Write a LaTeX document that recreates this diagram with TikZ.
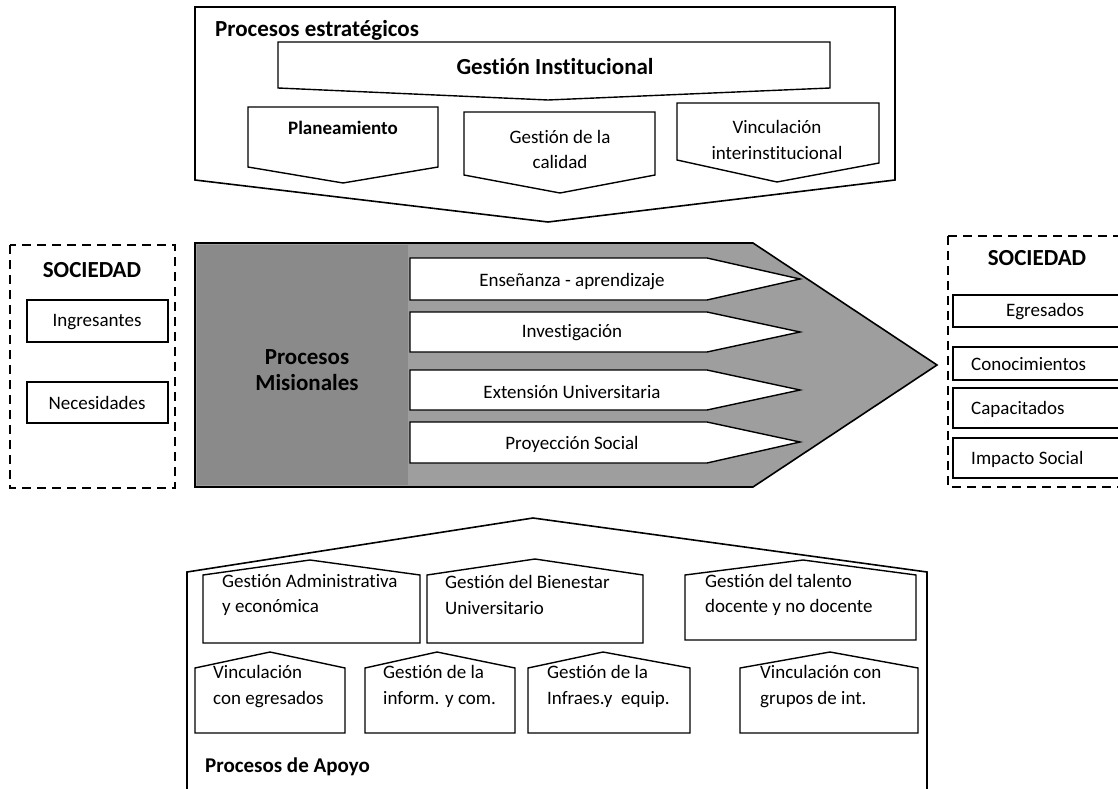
\documentclass[tikz,border=0pt]{standalone}
\usepackage{fontspec}
\setmainfont{Carlito}[Ligatures=NoCommon]
\begin{document}
\begin{tikzpicture}[x=1pt,y=-1pt,
  frame/.style={draw, line width=1.6pt, line join=miter},
  pbox/.style={draw, line width=1.4pt, fill=white, line join=miter},
  dbox/.style={draw, line width=2pt, dash pattern=on 9pt off 6pt},
  txt/.style={font=\fontsize{19}{25.5}\selectfont, inner sep=0pt},
  head/.style={font=\bfseries\fontsize{23}{26}\selectfont, inner sep=0pt},
  bhead/.style={font=\bfseries\fontsize{21}{24}\selectfont, inner sep=0pt}]
\useasboundingbox (0,0) rectangle (1118,789);
\fill[white] (0,0) rectangle (1118,789);

% ---------- Procesos estrategicos ----------
\path[frame] (195,7) -- (895,7) -- (895,180) -- (548,222) -- (195,180) -- cycle;
\node[head, anchor=west] (pe) at (215,30) {Procesos estratégicos};
\path[pbox] (278,42) -- (830,42) -- (830,88) -- (548,100) -- (278,88) -- cycle;
\node[head] (gi) at (555,67) {Gestión Institucional};
\path[pbox] (248,107) -- (438,107) -- (438,167) -- (343,183) -- (248,167) -- cycle;
\node[txt, font=\bfseries\fontsize{19}{25}\selectfont] (plan) at (343,128) {Planeamiento};
\path[pbox] (464,112) -- (655,112) -- (655,175) -- (560,193) -- (464,175) -- cycle;
\node[txt, align=center] (cal) at (560,149.5) {Gestión de la\\calidad};
\path[pbox] (677,103) -- (879,103) -- (879,163) -- (777,182) -- (677,160) -- cycle;
\node[txt, align=center] (vinc) at (777,140) {Vinculación\\interinstitucional};

% ---------- Procesos misionales ----------
\path[frame, fill=black!38] (195,243) -- (753,243) -- (937,365) -- (753,487) -- (195,487) -- cycle;
\fill[black!46] (197,245) rectangle (408,485);
\node[head, align=center] (pm) at (307,370) {Procesos\\Misionales};
\path[pbox] (410,258) -- (707,258) -- (800,279) -- (707,300) -- (410,300) -- cycle;
\node[txt] (ens) at (572,282) {Enseñanza - aprendizaje};
\path[pbox] (410,312) -- (707,312) -- (800,332) -- (707,352) -- (410,352) -- cycle;
\node[txt] (inv) at (572,333) {Investigación};
\path[pbox] (410,370) -- (707,370) -- (800,390) -- (707,410) -- (410,410) -- cycle;
\node[txt] (ext) at (572,392) {Extensión Universitaria};
\path[pbox] (410,422) -- (707,422) -- (800,442) -- (707,463) -- (410,463) -- cycle;
\node[txt] (proy) at (572,444) {Proyección Social};

% ---------- Sociedad izquierda ----------
\draw[dbox] (10,245) rectangle (175,488);
\node[head] (soc1) at (92,270) {SOCIEDAD};
\draw[line width=1.4pt] (27,300) rectangle (168,342);
\node[txt] (ing) at (97,322) {Ingresantes};
\draw[line width=1.4pt] (27,382) rectangle (168,423);
\node[txt] (nec) at (97,403) {Necesidades};

% ---------- Sociedad derecha ----------
\draw[dbox] (948,236) -- (1130,236);
\draw[dbox] (948,236) -- (948,487) -- (1130,487);
\node[head] (soc2) at (1037,258) {SOCIEDAD};
\draw[line width=1.4pt] (953,295) rectangle (1130,327);
\node[txt] (egr) at (1045,312) {Egresados};
\draw[line width=1.4pt] (953,347) rectangle (1130,380);
\node[txt, anchor=west] (con) at (971,364) {Conocimientos};
\draw[line width=1.4pt] (953,388) rectangle (1130,428);
\node[txt, anchor=west] (cap) at (971,409) {Capacitados};
\draw[line width=1.4pt] (953,438) rectangle (1130,478);
\node[txt, anchor=west] (imp) at (971,459) {Impacto Social};

% ---------- Procesos de apoyo ----------
\path[frame] (187,795) -- (187,572) -- (533,518) -- (927,572) -- (927,795);
\path[pbox] (203,575) -- (310,560) -- (420,575) -- (420,643) -- (203,643) -- cycle;
\node[txt, align=left, anchor=west] (ga) at (222,595) {Gestión Administrativa\\y económica};
\path[pbox] (427,575) -- (535,559) -- (643,575) -- (643,643) -- (427,643) -- cycle;
\node[txt, align=left, anchor=west] (gb) at (445,595) {Gestión del Bienestar\\Universitario};
\path[pbox] (685,575) -- (803,560) -- (916,575) -- (916,640) -- (685,640) -- cycle;
\node[txt, align=left, anchor=west] (gt) at (705,595) {Gestión del talento\\docente y no docente};
\path[pbox] (195,668) -- (270,652) -- (345,668) -- (345,733) -- (195,733) -- cycle;
\node[txt, align=left, anchor=west] (ve) at (213,686.5) {Vinculación\\con egresados};
\path[pbox] (365,668) -- (437,652) -- (515,668) -- (515,733) -- (365,733) -- cycle;
\node[txt, align=left, anchor=west] (gic) at (383,686.5) {Gestión de la\\inform. y com.};
\path[pbox] (528,668) -- (603,652) -- (690,668) -- (690,733) -- (528,733) -- cycle;
\node[txt, align=left, anchor=west] (gie) at (547,686.5) {Gestión de la\\Infraes.y~ equip.};
\path[pbox] (740,668) -- (830,652) -- (918,668) -- (918,733) -- (740,733) -- cycle;
\node[txt, align=left, anchor=west] (vg) at (760,686.5) {Vinculación con\\grupos de int.};
\node[bhead, anchor=west] (pa) at (205,767) {Procesos de Apoyo};
\end{tikzpicture}
\end{document}
